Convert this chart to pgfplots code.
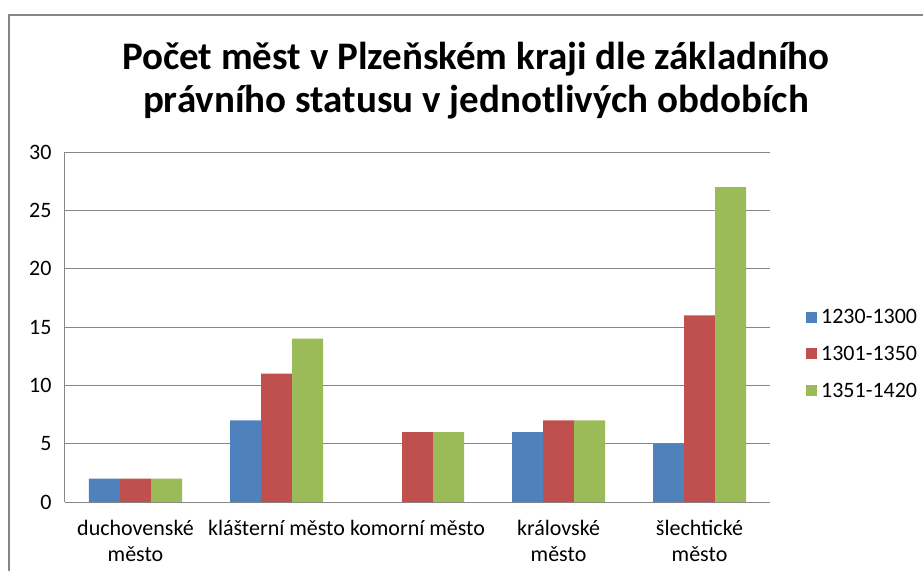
\documentclass[border=0pt]{standalone}
\usepackage{pgfplots}
\pgfplotsset{compat=1.18}
\usepackage{fontspec}
\setmainfont{Carlito}
\definecolor{s1}{HTML}{4F81BD}
\definecolor{s2}{HTML}{C0504D}
\definecolor{s3}{HTML}{9BBB59}
\definecolor{gridc}{HTML}{868686}
\begin{document}
\begin{tikzpicture}[x=1pt,y=1pt]
\useasboundingbox (0,0) rectangle (923,571);
\draw[gridc, line width=2pt] (9,0) -- (9,556) -- (923,556);
\node[align=center, font=\fontsize{39}{43}\selectfont\bfseries] at (476,490) {Počet měst v Plzeňském kraji dle základního\\právního statusu v jednotlivých obdobích};
\begin{axis}[
  at={(65pt,69pt)}, anchor=south west,
  scale only axis, width=705pt, height=350pt,
  xmin=-0.5, xmax=4.5, ymin=0, ymax=30,
  ytick={0,5,...,30},
  xtick={0,1,2,3,4},
  xticklabels={{duchovenské\\město},{klášterní město},{komorní město},{královské\\město},{šlechtické\\město}},
  x tick label style={align=center, font=\fontsize{22}{26}\selectfont, yshift=-15pt},
  y tick label style={font=\fontsize{22}{26}\selectfont, xshift=-10pt},
  /pgf/number format/assume math mode=true,
  major tick length=0pt,
  ymajorgrids, grid style={gridc, line width=1pt},
  axis x line*=bottom, axis y line*=left,
  axis line style={gridc, line width=1pt, -},
  ybar=0pt, bar width=31pt,
  legend style={at={(1.051,0.423)}, anchor=west, draw=none, fill=none,
    font=\fontsize{22}{26}\selectfont, row sep=17pt, inner sep=0pt,
    nodes={inner xsep=4pt}},
  legend cell align=left,
  legend image code/.code={\fill[#1] (0pt,-5.5pt) rectangle (11pt,5.5pt);},
]
\addplot[fill=s1, draw=none] coordinates {(0,2) (1,7) (3,6) (4,5)};
\addplot[fill=s2, draw=none] coordinates {(0,2) (1,11) (2,6) (3,7) (4,16)};
\addplot[fill=s3, draw=none] coordinates {(0,2) (1,14) (2,6) (3,7) (4,27)};
\legend{1230-1300,1301-1350,1351-1420}
\end{axis}
\end{tikzpicture}
\end{document}
